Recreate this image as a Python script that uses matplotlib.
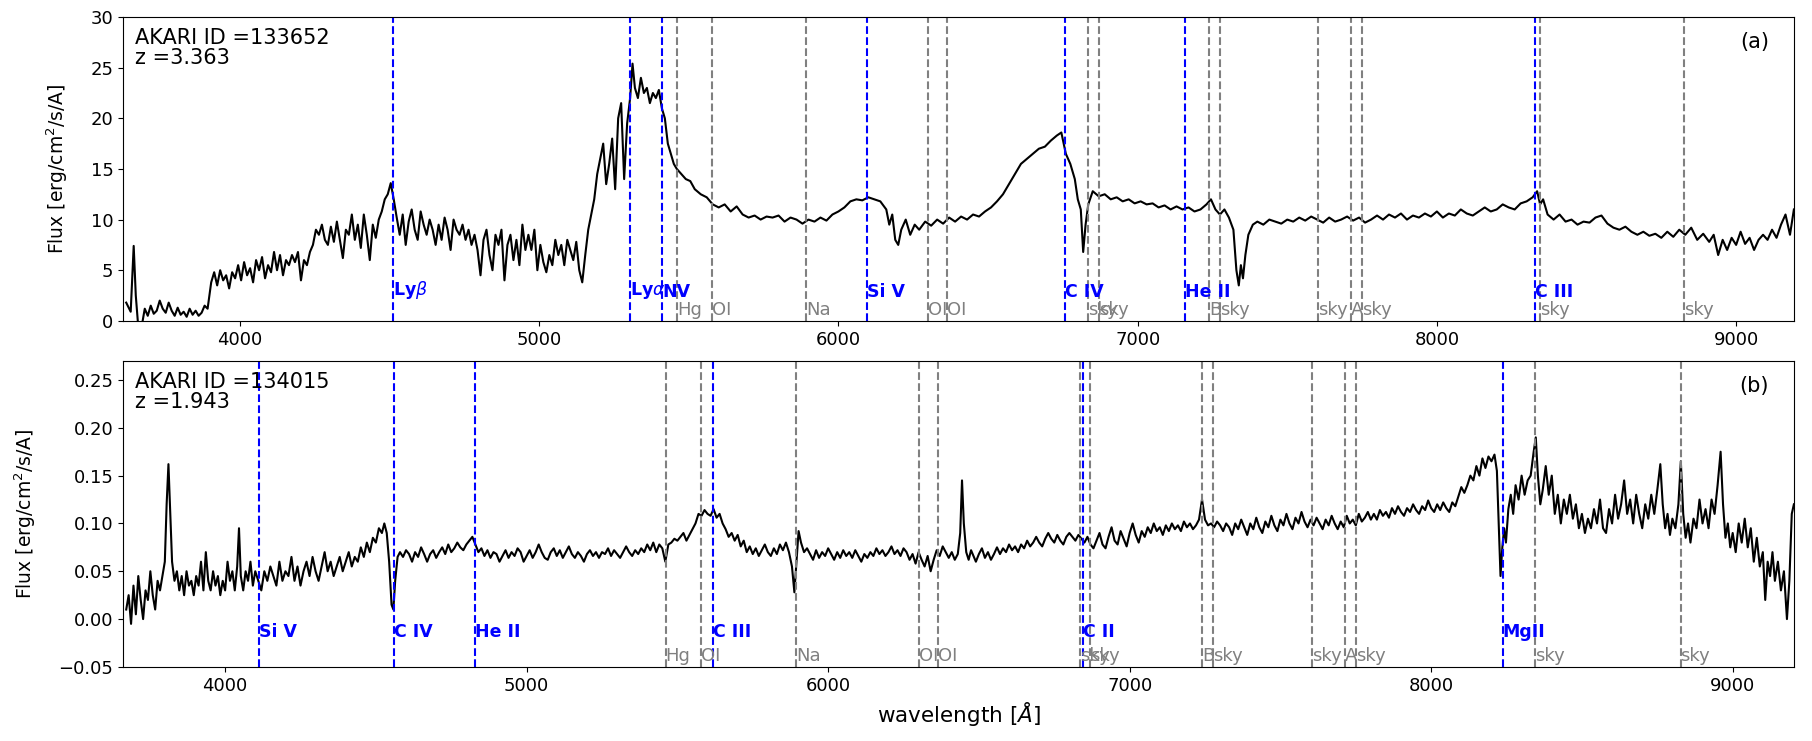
import matplotlib
matplotlib.use('Agg')
import matplotlib.pyplot as plt
import matplotlib.transforms as mtransforms
import numpy as np

# spectrum (a): AKARI ID 133652
wave_a = [3620, 3635, 3645, 3652, 3660, 3672, 3682, 3692, 3702, 3712, 3722, 3732, 3742, 3752, 3762,
          3772, 3782, 3792, 3802, 3812, 3822, 3832, 3842, 3852, 3862, 3872, 3882, 3892,
          3904, 3914, 3924, 3934, 3944, 3954, 3964, 3974, 3984, 3994, 4004, 4014, 4024, 4034, 4044,
          4054, 4064, 4074, 4084, 4094, 4104, 4114, 4124, 4134, 4144, 4154, 4164, 4174, 4184, 4194,
          4204, 4214, 4224, 4234, 4244, 4254, 4264, 4274, 4284, 4294, 4304, 4314, 4324, 4334, 4344,
          4354, 4364, 4374, 4384, 4394, 4404, 4414, 4424, 4434, 4444, 4454, 4464, 4474, 4484, 4494,
          4504, 4514, 4524, 4534, 4544, 4554, 4564, 4574, 4584, 4594, 4604, 4614, 4624, 4634, 4644,
          4654, 4664, 4674, 4684, 4694, 4704, 4714, 4724, 4734, 4744, 4754, 4764, 4774, 4784, 4794,
          4804, 4814, 4824, 4834, 4844, 4854, 4864, 4874, 4884, 4894, 4904, 4914, 4924, 4934, 4944,
          4954, 4964, 4974, 4984, 4994, 5004, 5014, 5024, 5034, 5044, 5054, 5064, 5074, 5084, 5094,
          5104, 5114, 5124, 5134, 5144, 5154, 5164, 5174, 5184, 5194, 5204, 5214, 5224, 5234, 5244,
          5254, 5264, 5274, 5284, 5294, 5304, 5312, 5320, 5330, 5340, 5350, 5360, 5370, 5380, 5390,
          5400, 5410, 5420, 5430, 5440, 5450, 5460, 5475, 5490, 5505, 5520, 5540, 5560, 5580, 5600,
          5620, 5640, 5660, 5680, 5700, 5720, 5740, 5760, 5780, 5800, 5820, 5840, 5860, 5880, 5900,
          5920, 5940, 5960, 5980, 6000, 6020, 6040, 6060, 6080, 6100, 6120, 6140, 6160, 6170, 6180,
          6190, 6200, 6210, 6225, 6240, 6255, 6270, 6290, 6310, 6330, 6350, 6370, 6390, 6410, 6430,
          6450, 6470, 6490, 6510, 6530, 6550, 6570, 6590, 6610, 6630, 6650, 6670, 6690, 6710, 6730,
          6745, 6760, 6775, 6790, 6800, 6810, 6818, 6826, 6835, 6850, 6870, 6890, 6910, 6930, 6950,
          6970, 6990, 7010, 7030, 7050, 7070, 7090, 7110, 7130, 7150, 7170, 7190, 7210, 7230, 7245,
          7260, 7275, 7290, 7305, 7320, 7330, 7338, 7345, 7352, 7360, 7370, 7385, 7400, 7420, 7440,
          7460, 7480, 7500, 7520, 7540, 7560, 7580, 7600, 7620, 7640, 7660, 7680, 7700, 7720, 7740,
          7760, 7780, 7800, 7820, 7840, 7860, 7880, 7900, 7920, 7940, 7960, 7980, 8000, 8020, 8040,
          8060, 8080, 8100, 8120, 8140, 8160, 8180, 8200, 8220, 8240, 8260, 8280, 8300, 8320, 8335,
          8345, 8355, 8370, 8390, 8410, 8430, 8450, 8470, 8490, 8510, 8530, 8550, 8570, 8590, 8610,
          8630, 8650, 8670, 8690, 8710, 8730, 8750, 8770, 8790, 8810, 8830, 8850, 8870, 8890, 8910,
          8925, 8940, 8955, 8970, 8985, 9000, 9015, 9030, 9045, 9060, 9075, 9090, 9105, 9120, 9135,
          9150, 9165, 9180, 9193]
flux_a = [1.8, 0.9, 7.4, 2.5, -0.5, -0.5, 1.2, 0.5, 1.5, 0.7, 1.0, 2.0, 1.2, 0.8, 1.8,
          1.0, 0.5, 1.3, 0.6, 0.9, 0.4, 1.2, 0.6, 1.0, 0.5, 0.8, 1.5, 1.2,
          3.8, 4.8, 3.5, 5.0, 4.0, 4.5, 3.2, 4.8, 4.2, 5.5, 4.0, 5.8, 4.5, 5.2, 3.8,
          6.0, 5.0, 6.3, 4.2, 5.5, 4.8, 6.8, 5.0, 6.5, 4.5, 6.0, 5.5, 6.5, 5.8, 6.8,
          4.0, 6.0, 5.5, 6.8, 7.5, 9.0, 8.5, 9.5, 8.0, 7.5, 9.3, 7.8, 9.8, 8.0, 6.2,
          9.0, 8.5, 10.5, 8.0, 9.5, 7.2, 10.5, 8.5, 6.0, 9.5, 8.2, 10.0, 10.8, 12.0, 12.5,
          13.6, 12.0, 10.2, 8.5, 10.5, 7.5, 9.8, 11.0, 9.0, 8.0, 10.8, 9.5, 8.5, 10.0, 9.0,
          7.5, 9.5, 8.0, 10.2, 9.0, 7.0, 10.0, 9.0, 8.5, 9.5, 8.0, 9.0, 7.5, 8.5, 7.0,
          4.5, 8.0, 9.0, 6.5, 5.0, 8.5, 7.5, 9.0, 4.0, 7.5, 8.5, 6.0, 8.0, 5.5, 9.5,
          7.0, 8.5, 7.0, 9.0, 5.0, 7.5, 5.8, 4.8, 6.5, 5.5, 8.0, 6.5, 7.5, 5.5, 8.0,
          7.0, 6.0, 7.8, 5.0, 3.8, 6.5, 9.0, 10.5, 12.0, 14.5, 16.0, 17.5, 13.5, 15.5, 18.0,
          13.0, 20.0, 21.5, 14.0, 19.5, 22.0, 25.4, 23.0, 22.0, 24.0, 22.5, 23.0, 21.5, 22.5, 22.0,
          22.8, 21.0, 20.0, 17.5, 16.5, 15.5, 15.0, 14.5, 14.0, 13.8, 13.0, 12.5, 12.2, 11.5, 11.2,
          11.5, 10.8, 11.3, 10.5, 10.2, 10.4, 10.0, 10.3, 10.2, 10.4, 9.8, 10.2, 10.0, 9.6, 10.0,
          9.8, 10.2, 9.9, 10.5, 10.8, 11.2, 11.8, 12.0, 11.9, 12.2, 12.0, 11.8, 11.0, 9.5, 10.5,
          8.0, 7.5, 9.0, 10.0, 8.5, 9.5, 9.0, 9.8, 9.4, 10.0, 9.6, 10.2, 9.8, 10.3, 10.0,
          10.5, 10.3, 10.8, 11.2, 11.8, 12.5, 13.5, 14.5, 15.5, 16.0, 16.5, 17.0, 17.2, 17.8, 18.3,
          18.6, 16.5, 15.5, 14.0, 12.0, 11.0, 6.8, 9.5, 11.5, 12.8, 12.3, 12.5, 12.0, 12.2, 11.8,
          12.0, 11.6, 11.8, 11.5, 11.6, 11.2, 11.4, 11.0, 11.3, 11.0, 11.2, 10.8, 11.0, 11.5, 12.0,
          11.0, 10.5, 11.0, 10.2, 9.0, 5.0, 3.5, 5.5, 4.2, 6.5, 8.5, 9.5, 9.8, 9.5, 10.0,
          9.8, 9.6, 10.0, 9.8, 10.2, 9.9, 10.3, 10.0, 9.7, 10.2, 9.8, 10.0, 10.3, 9.9, 10.2,
          9.7, 10.0, 10.4, 10.0, 10.5, 10.2, 10.6, 10.0, 10.4, 10.2, 10.6, 10.3, 10.8, 10.2, 10.6,
          10.4, 11.0, 10.6, 10.4, 10.8, 11.2, 10.8, 11.0, 11.5, 11.2, 11.0, 11.6, 11.8, 12.2, 12.8,
          11.5, 12.0, 10.5, 10.0, 10.5, 9.8, 10.0, 9.5, 9.8, 9.7, 10.2, 10.4, 9.6, 9.2, 9.0,
          9.3, 8.8, 8.5, 8.8, 8.4, 8.6, 8.2, 8.8, 8.3, 9.0, 8.5, 9.2, 8.0, 8.6, 7.8,
          8.5, 6.5, 8.0, 7.0, 8.2, 7.5, 8.8, 7.6, 8.2, 7.0, 8.0, 8.5, 8.0, 9.0, 8.2,
          9.5, 10.5, 8.5, 11.0]

# spectrum (b): AKARI ID 134015
wave_b = [3672, 3680, 3688, 3696, 3704, 3712, 3720, 3728, 3736, 3744, 3752, 3760, 3768, 3776, 3784,
          3792, 3800, 3806, 3812, 3818, 3824, 3832, 3840, 3848, 3856, 3864, 3872, 3880, 3888, 3896,
          3904, 3912, 3920, 3928, 3936, 3944, 3952, 3960, 3968, 3976, 3984, 3992, 4000, 4008, 4016,
          4024, 4032, 4040, 4046, 4052, 4060, 4068, 4076, 4084, 4092, 4100, 4110, 4120, 4130, 4140,
          4150, 4160, 4170, 4180, 4190, 4200, 4210, 4220, 4230, 4240, 4250, 4260, 4270, 4280, 4290,
          4300, 4310, 4320, 4330, 4340, 4350, 4360, 4370, 4380, 4390, 4400, 4410, 4420, 4430, 4440,
          4450, 4460, 4470, 4480, 4490, 4500, 4510, 4520, 4528, 4536, 4544, 4552, 4558, 4564, 4572,
          4580, 4590, 4600, 4610, 4620, 4630, 4640, 4650, 4660, 4670, 4680, 4690, 4700, 4710, 4720,
          4730, 4740, 4750, 4760, 4770, 4780, 4790, 4800, 4810, 4820, 4830, 4840, 4850, 4860, 4870,
          4880, 4890, 4900, 4910, 4920, 4930, 4940, 4950, 4960, 4970, 4980, 4990, 5000, 5010, 5020,
          5030, 5040, 5050, 5060, 5070, 5080, 5090, 5100, 5110, 5120, 5130, 5140, 5150, 5160, 5170,
          5180, 5190, 5200, 5210, 5220, 5230, 5240, 5250, 5260, 5270, 5280, 5290, 5300, 5310, 5320,
          5330, 5340, 5350, 5360, 5370, 5380, 5390, 5400, 5410, 5420, 5430, 5440, 5450, 5460, 5470,
          5480, 5490, 5500, 5510, 5520, 5530, 5540, 5550, 5560, 5570, 5580, 5590, 5600, 5610, 5620,
          5630, 5640, 5650, 5660, 5670, 5680, 5690, 5700, 5710, 5720, 5730, 5740, 5750, 5760, 5770,
          5780, 5790, 5800, 5810, 5820, 5830, 5840, 5850, 5860, 5870, 5880, 5888, 5895, 5902, 5910,
          5920, 5930, 5940, 5950, 5960, 5970, 5980, 5990, 6000, 6010, 6020, 6030, 6040, 6050, 6060,
          6070, 6080, 6090, 6100, 6110, 6120, 6130, 6140, 6150, 6160, 6170, 6180, 6190, 6200, 6210,
          6220, 6230, 6240, 6250, 6260, 6270, 6280, 6290, 6300, 6310, 6320, 6330, 6340, 6350, 6360,
          6370, 6380, 6390, 6400, 6410, 6420, 6430, 6438, 6444, 6450, 6458, 6466, 6474, 6482, 6490,
          6500, 6510, 6520, 6530, 6540, 6550, 6560, 6570, 6580, 6590, 6600, 6610, 6620, 6630, 6640,
          6650, 6660, 6670, 6680, 6690, 6700, 6710, 6720, 6730, 6740, 6750, 6760, 6770, 6780, 6790,
          6800, 6810, 6820, 6830, 6840, 6850, 6860, 6870, 6880, 6890, 6900, 6910, 6920, 6930, 6940,
          6950, 6960, 6970, 6980, 6990, 7000, 7010, 7020, 7030, 7040, 7050, 7060, 7070, 7080, 7090,
          7100, 7110, 7120, 7130, 7140, 7150, 7160, 7170, 7180, 7190, 7200, 7210, 7220, 7230, 7240,
          7250, 7260, 7270, 7280, 7290, 7300, 7310, 7320, 7330, 7340, 7350, 7360, 7370, 7380, 7390,
          7400, 7410, 7420, 7430, 7440, 7450, 7460, 7470, 7480, 7490, 7500, 7510, 7520, 7530, 7540,
          7550, 7560, 7570, 7580, 7590, 7600, 7610, 7620, 7630, 7640, 7650, 7660, 7670, 7680, 7690,
          7700, 7710, 7720, 7730, 7740, 7750, 7760, 7770, 7780, 7790, 7800, 7810, 7820, 7830, 7840,
          7850, 7860, 7870, 7880, 7890, 7900, 7910, 7920, 7930, 7940, 7950, 7960, 7970, 7980, 7990,
          8000, 8010, 8020, 8030, 8040, 8050, 8060, 8070, 8080, 8090, 8100, 8110, 8120, 8130, 8140,
          8150, 8160, 8170, 8180, 8190, 8200, 8210, 8218, 8224, 8230, 8236, 8242, 8248, 8256, 8264,
          8272, 8280, 8290, 8300, 8310, 8320, 8330, 8340, 8347, 8354, 8362, 8370, 8380, 8390, 8400,
          8410, 8420, 8430, 8440, 8450, 8460, 8470, 8480, 8490, 8500, 8510, 8520, 8530, 8540, 8550,
          8560, 8570, 8580, 8590, 8600, 8610, 8620, 8630, 8640, 8650, 8660, 8670, 8680, 8690, 8700,
          8710, 8720, 8730, 8740, 8750, 8760, 8768, 8776, 8784, 8792, 8800, 8810, 8820, 8828, 8836,
          8844, 8852, 8860, 8870, 8880, 8890, 8900, 8910, 8920, 8930, 8940, 8950, 8960, 8968, 8976,
          8984, 8992, 9000, 9010, 9020, 9030, 9040, 9050, 9060, 9070, 9080, 9090, 9100, 9108, 9116,
          9124, 9132, 9140, 9150, 9160, 9170, 9180, 9188, 9196, 9203]
flux_b = [0.010, 0.025, -0.005, 0.035, 0.005, 0.045, 0.020, 0.000, 0.030, 0.020, 0.050, 0.025, 0.010, 0.040, 0.030,
          0.045, 0.060, 0.120, 0.162, 0.110, 0.060, 0.040, 0.050, 0.030, 0.045, 0.025, 0.050, 0.035, 0.040, 0.025,
          0.045, 0.035, 0.060, 0.030, 0.070, 0.040, 0.030, 0.050, 0.035, 0.045, 0.025, 0.040, 0.030, 0.060, 0.040,
          0.050, 0.030, 0.055, 0.095, 0.045, 0.030, 0.050, 0.040, 0.060, 0.035, 0.050, 0.040, 0.030, 0.050, 0.040,
          0.055, 0.045, 0.035, 0.060, 0.040, 0.050, 0.045, 0.065, 0.040, 0.055, 0.035, 0.050, 0.060, 0.045, 0.065,
          0.050, 0.040, 0.055, 0.070, 0.050, 0.060, 0.045, 0.055, 0.065, 0.050, 0.060, 0.070, 0.055, 0.065, 0.060,
          0.075, 0.065, 0.080, 0.070, 0.085, 0.080, 0.095, 0.090, 0.100, 0.090, 0.060, 0.015, 0.010, 0.040, 0.065,
          0.070, 0.065, 0.072, 0.068, 0.060, 0.070, 0.065, 0.075, 0.068, 0.060, 0.068, 0.072, 0.064, 0.070, 0.075,
          0.068, 0.078, 0.070, 0.074, 0.080, 0.075, 0.072, 0.078, 0.082, 0.086, 0.078, 0.070, 0.074, 0.066, 0.072,
          0.064, 0.070, 0.068, 0.060, 0.066, 0.072, 0.064, 0.070, 0.066, 0.074, 0.070, 0.060, 0.066, 0.072, 0.064,
          0.070, 0.078, 0.070, 0.064, 0.062, 0.070, 0.074, 0.066, 0.072, 0.064, 0.070, 0.076, 0.068, 0.064, 0.070,
          0.066, 0.060, 0.068, 0.072, 0.066, 0.070, 0.064, 0.070, 0.068, 0.074, 0.066, 0.072, 0.068, 0.064, 0.070,
          0.076, 0.070, 0.066, 0.072, 0.068, 0.074, 0.070, 0.078, 0.072, 0.080, 0.070, 0.078, 0.074, 0.060, 0.078,
          0.080, 0.084, 0.082, 0.086, 0.090, 0.082, 0.088, 0.094, 0.100, 0.110, 0.108, 0.114, 0.110, 0.108, 0.115,
          0.106, 0.110, 0.100, 0.094, 0.086, 0.090, 0.082, 0.088, 0.076, 0.082, 0.070, 0.076, 0.068, 0.074, 0.066,
          0.072, 0.078, 0.070, 0.066, 0.074, 0.068, 0.078, 0.072, 0.080, 0.070, 0.055, 0.028, 0.060, 0.092, 0.080,
          0.070, 0.074, 0.068, 0.062, 0.072, 0.064, 0.070, 0.066, 0.074, 0.068, 0.062, 0.070, 0.064, 0.072, 0.066,
          0.070, 0.064, 0.072, 0.066, 0.060, 0.068, 0.064, 0.070, 0.066, 0.074, 0.068, 0.072, 0.066, 0.070, 0.076,
          0.068, 0.072, 0.066, 0.074, 0.070, 0.062, 0.068, 0.058, 0.070, 0.062, 0.055, 0.066, 0.050, 0.062, 0.072,
          0.066, 0.076, 0.070, 0.064, 0.070, 0.062, 0.068, 0.090, 0.145, 0.100, 0.070, 0.062, 0.072, 0.066, 0.060,
          0.068, 0.074, 0.064, 0.070, 0.062, 0.068, 0.075, 0.068, 0.074, 0.070, 0.078, 0.072, 0.076, 0.070, 0.078,
          0.074, 0.082, 0.076, 0.080, 0.086, 0.080, 0.076, 0.084, 0.090, 0.084, 0.080, 0.088, 0.082, 0.078, 0.086,
          0.090, 0.086, 0.082, 0.088, 0.084, 0.080, 0.086, 0.078, 0.074, 0.082, 0.090, 0.078, 0.074, 0.086, 0.096,
          0.082, 0.078, 0.092, 0.084, 0.076, 0.090, 0.100, 0.088, 0.080, 0.092, 0.086, 0.096, 0.090, 0.100, 0.092,
          0.096, 0.088, 0.098, 0.092, 0.100, 0.094, 0.098, 0.092, 0.102, 0.096, 0.100, 0.094, 0.098, 0.104, 0.125,
          0.104, 0.098, 0.100, 0.096, 0.102, 0.098, 0.092, 0.100, 0.096, 0.088, 0.100, 0.094, 0.104, 0.096, 0.088,
          0.100, 0.094, 0.106, 0.096, 0.090, 0.102, 0.096, 0.108, 0.098, 0.092, 0.104, 0.098, 0.110, 0.100, 0.094,
          0.106, 0.100, 0.112, 0.102, 0.096, 0.104, 0.098, 0.106, 0.100, 0.094, 0.104, 0.098, 0.108, 0.100, 0.094,
          0.102, 0.096, 0.108, 0.100, 0.104, 0.098, 0.110, 0.102, 0.106, 0.112, 0.104, 0.110, 0.104, 0.114, 0.108,
          0.112, 0.106, 0.116, 0.110, 0.118, 0.112, 0.108, 0.116, 0.112, 0.120, 0.114, 0.110, 0.118, 0.114, 0.124,
          0.116, 0.112, 0.120, 0.114, 0.122, 0.116, 0.112, 0.122, 0.118, 0.128, 0.138, 0.132, 0.140, 0.150, 0.145,
          0.160, 0.150, 0.168, 0.158, 0.170, 0.165, 0.172, 0.155, 0.100, 0.045, 0.075, 0.095, 0.080, 0.115, 0.130,
          0.110, 0.140, 0.125, 0.150, 0.130, 0.145, 0.150, 0.175, 0.190, 0.150, 0.120, 0.135, 0.160, 0.130, 0.150,
          0.110, 0.130, 0.100, 0.125, 0.110, 0.130, 0.105, 0.120, 0.095, 0.110, 0.090, 0.105, 0.095, 0.115, 0.100,
          0.125, 0.095, 0.090, 0.115, 0.100, 0.130, 0.105, 0.120, 0.145, 0.110, 0.125, 0.100, 0.130, 0.110, 0.095,
          0.120, 0.105, 0.130, 0.110, 0.135, 0.162, 0.120, 0.095, 0.110, 0.088, 0.105, 0.095, 0.120, 0.165, 0.110,
          0.085, 0.100, 0.080, 0.105, 0.095, 0.125, 0.100, 0.115, 0.095, 0.125, 0.110, 0.140, 0.175, 0.120, 0.085,
          0.100, 0.075, 0.090, 0.070, 0.100, 0.080, 0.105, 0.075, 0.095, 0.060, 0.085, 0.055, 0.070, 0.020, 0.060,
          0.045, 0.070, 0.040, 0.060, 0.030, 0.050, 0.000, 0.040, 0.110, 0.120]

# emission lines (rest frame) and sky / telluric lines (observed frame)
qso_names_a = ['Ly$\\beta$', 'Ly$\\alpha$', 'NV', 'Si V', 'C IV', 'He II', 'C III']
qso_rest_a = [1034.0, 1215.67, 1240.0, 1397.0, 1549.0, 1640.4, 1908.7]
qso_names_b = ['Si V', 'C IV', 'He II', 'C III', 'C II', 'MgII']
qso_rest_b = [1397.0, 1549.0, 1640.4, 1908.7, 2326.0, 2799.0]
sky_names = ['Hg', 'OI', 'Na', 'OI', 'OI', 'sky', 'sky', 'B', 'sky', 'sky', 'A', 'sky', 'sky', 'sky']
sky_wave = [5461, 5577, 5893, 6300, 6364, 6834, 6870, 7240, 7275, 7604, 7714, 7750, 8344, 8827]

ids = ['133652', '134015']
zs = [3.363, 1.943]
ylims = [(0, 30), (-0.05, 0.27)]
label_y = [0.065, 0.085]

fig = plt.figure(figsize=(18.12, 7.41), dpi=100)
ax1 = fig.add_axes([0.068, 0.567, 0.922, 0.41])
ax2 = fig.add_axes([0.068, 0.100, 0.922, 0.413])

panels = [(ax1, wave_a, flux_a, qso_names_a, qso_rest_a, '(a)'),
          (ax2, wave_b, flux_b, qso_names_b, qso_rest_b, '(b)')]

for i, (ax, w, f, names, rest, tag) in enumerate(panels):
    z = zs[i]
    ax.plot(w, f, color='k', lw=1.5)
    trans = mtransforms.blended_transform_factory(ax.transData, ax.transAxes)
    for name, lam in zip(names, rest):
        obs = lam * (1 + z)
        ax.axvline(obs, color='b', ls='--', lw=1.5)
        ax.text(obs, label_y[i], name, color='b', fontsize=12.5, transform=trans,
                ha='left', va='bottom', fontweight='bold')
    for name, lam in zip(sky_names, sky_wave):
        ax.axvline(lam, color='grey', ls='--', lw=1.5)
        ax.text(lam, 0.005, name, color='grey', fontsize=13, transform=trans,
                ha='left', va='bottom')
    ax.set_xlim(w[0] - 10, w[-1])
    ax.set_ylim(*ylims[i])
    ax.text(0.007, 0.965, 'AKARI ID =' + ids[i] + '\nz =' + str(z), transform=ax.transAxes,
            fontsize=15, va='top', ha='left', linespacing=1.05)
    ax.text(0.985, 0.95, tag, transform=ax.transAxes, fontsize=15, ha='right', va='top')
    ax.set_ylabel('Flux [erg/cm$^2$/s/A]', fontsize=13.5, labelpad=15)
    ax.tick_params(labelsize=13)

ax2.set_xlabel('wavelength [$\\AA$]', fontsize=15.5)
plt.savefig('out.png', format='png')
